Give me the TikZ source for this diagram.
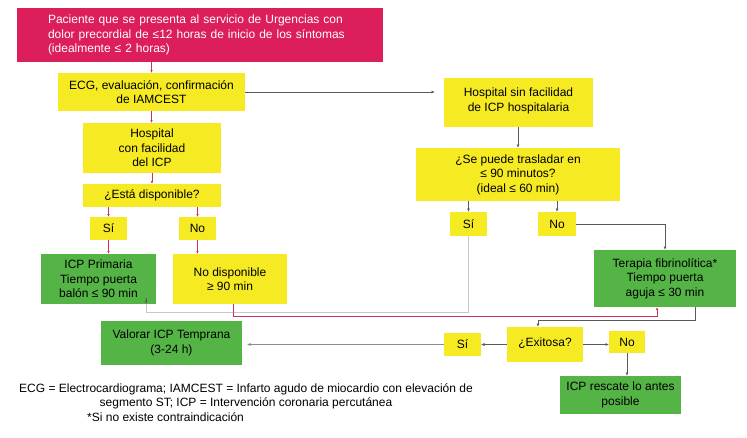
\documentclass[tikz,border=0pt]{standalone}
\usepackage{fontspec}
\setmainfont{Liberation Sans}
\usetikzlibrary{arrows.meta,calc}
\definecolor{cpink}{RGB}{220,30,90}
\definecolor{cyel}{RGB}{246,235,35}
\definecolor{cgreen}{RGB}{85,180,70}
\definecolor{cred}{RGB}{205,50,90}
\definecolor{cdark}{RGB}{90,90,90}
\definecolor{clight}{RGB}{200,200,200}
\definecolor{cmid}{RGB}{140,140,140}
\tikzset{
  box/.style={rectangle, inner sep=0pt, outer sep=0pt, align=center, font=\fontsize{12}{14.5}\selectfont, text=black},
  ybox/.style={box, fill=cyel},
  gbox/.style={box, fill=cgreen},
  redarr/.style={draw=cred, line width=0.6pt, -{Latex[length=3pt,width=2.5pt]}},
  darr/.style={draw=cdark, line width=0.8pt, -{Latex[length=3.5pt,width=3pt]}},
  fn/.style={font=\fontsize{12}{14}\selectfont, inner sep=0pt, align=center}
}
\begin{document}
\begin{tikzpicture}[x=1pt,y=-1pt]
\useasboundingbox (0,0) rectangle (747,437);
% boxes
\node[box, fill=cpink, text=white, minimum height=54pt, inner xsep=31pt, text width=304pt, align=left] (pink) at (200,35)
  {Paciente que se presenta al servicio de Urgencias con\\dolor precordial de ≤12 horas de inicio de los síntomas\\(idealmente ≤ 2 horas)};
\node[ybox, minimum width=187pt, minimum height=38pt] (ecg) at (151.5,92) {ECG, evaluación, confirmación\\de IAMCEST};
\node[ybox, minimum width=138pt, minimum height=50pt] (hcon) at (152,148) {Hospital\\con facilidad\\del ICP};
\node[ybox, minimum width=138pt, minimum height=23pt] (esta) at (152,195.5) {¿Está disponible?};
\node[ybox, minimum width=37pt, minimum height=23pt] (si1) at (108.5,228.5) {Sí};
\node[ybox, minimum width=37pt, minimum height=23pt] (no1) at (197.5,228.5) {No};
\node[gbox, minimum width=115pt, minimum height=50pt] (icpp) at (98.5,279) {ICP Primaria\\Tiempo puerta\\balón ≤ 90 min};
\node[ybox, minimum width=114pt, minimum height=50pt] (nodisp) at (230,279) {No disponible\\≥ 90 min};
\node[gbox, minimum width=141pt, minimum height=44pt] (valorar) at (171.5,343) {Valorar ICP Temprana\\(3-24 h)};
\node[ybox, minimum width=149pt, minimum height=49pt, text depth=6pt] (hsin) at (518.5,102.5) {Hospital sin facilidad\\de ICP hospitalaria};
\node[ybox, minimum width=204pt, minimum height=53pt] (sepuede) at (518,174.5) {¿Se puede trasladar en\\≤ 90 minutos?\\(ideal ≤ 60 min)};
\node[ybox, minimum width=37pt, minimum height=24pt] (si2) at (468.5,224) {Sí};
\node[ybox, minimum width=38pt, minimum height=24pt] (no2) at (557,224) {No};
\node[gbox, minimum width=142pt, minimum height=57pt] (terapia) at (665,278.5) {Terapia fibrinolítica*\\Tiempo puerta\\aguja ≤ 30 min};
\node[ybox, minimum width=76pt, minimum height=35pt, text depth=5pt] (exitosa) at (545,344.5) {¿Exitosa?};
\node[ybox, minimum width=37pt, minimum height=23pt] (si3) at (462.5,344.5) {Sí};
\node[ybox, minimum width=36pt, minimum height=22pt] (no3) at (627,342) {No};
\node[gbox, minimum width=121pt, minimum height=38pt] (rescate) at (620.5,395) {ICP rescate lo antes\\posible};
% footnotes
\node[fn] (fn1) at (246,396) {ECG = Electrocardiograma; IAMCEST = Infarto agudo de miocardio con elevación de\\segmento ST; ICP = Intervención coronaria percutánea};
\node[fn, anchor=west] (fn2) at (87,417) {*Si no existe contraindicación};
% left column red arrows
\draw[redarr] (pink.south -| ecg) -- (ecg.north);
\draw[redarr] (ecg.south) -- (ecg.south |- hcon.north);
\draw[redarr] (hcon.south) -- (esta.north);
\draw[redarr] (esta.south -| si1) -- (si1.north);
\draw[redarr] (esta.south -| no1) -- (no1.north);
\draw[redarr] (si1.south) -- (si1.south |- icpp.north);
\draw[redarr] (no1.south) -- (no1.south |- nodisp.north);
% right column
\draw[darr, shorten >=9pt] (ecg.east) -- (ecg.east -| hsin.west);
\draw[darr] (hsin.south -| sepuede) -- (sepuede.north);
\draw[darr] (sepuede.south -| si2) -- (si2.north);
\draw[darr] (sepuede.south -| no2) -- (no2.north);
\draw[darr] (no2.east) -| (terapia.north);
% long connectors
\draw[draw=clight, line width=1pt] (si2.south) -- ++(0,76) coordinate (c1) -| ([xshift=-10pt]icpp.south east);
\draw[darr, draw=cdark] ([xshift=-10pt,yshift=6pt]icpp.south east) -- ([xshift=-10pt]icpp.south east);
\draw[draw=cred, line width=0.8pt, -{Latex[length=3pt,width=2.5pt]}] ([xshift=3pt]nodisp.south) -- ++(0,12) -| ([xshift=-8pt]terapia.south);
\draw[darr] ([xshift=30pt]terapia.south) -- ++(0,13) -| ([xshift=-7pt]exitosa.north);
\draw[darr] (exitosa.west) -- (exitosa.west -| si3.east);
\draw[darr] (exitosa.east) -- (exitosa.east -| no3.west);
\draw[draw=cmid, line width=1.2pt, -{Latex[length=3.5pt,width=3pt]}, shorten >=5pt] (si3.west) -- (si3.west -| valorar.east);
\draw[darr] (no3.south) -- (no3.south |- rescate.north);
\end{tikzpicture}
\end{document}
